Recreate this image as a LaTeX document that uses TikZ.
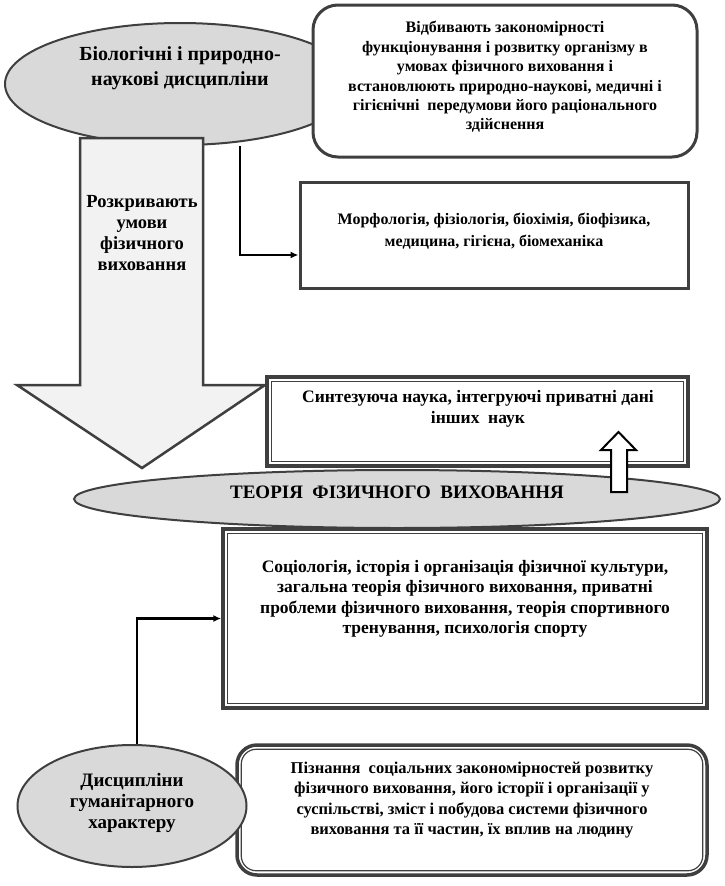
\documentclass[tikz,border=0pt]{standalone}
\usepackage{fontspec}
\setmainfont{Liberation Serif}
\usetikzlibrary{shapes.geometric,arrows.meta}
\definecolor{ellfill}{HTML}{D9D9D9}
\definecolor{edge}{HTML}{3F3F3F}
\definecolor{shaftfill}{HTML}{F2F2F2}
\begin{document}
\begin{tikzpicture}[x=1pt,y=-1pt,
  ell/.style={ellipse,draw=edge,line width=2pt,fill=ellfill,inner sep=0pt},
  plainbox/.style={rectangle,draw=edge,line width=3pt,fill=white,inner sep=0pt},
  outerframe/.style={rectangle,draw=edge,line width=3.5pt,fill=white,inner sep=0pt},
  innerframe/.style={draw=edge,line width=1.2pt},
  txt/.style={align=center,font=\bfseries\fontsize{16}{19.4}\selectfont,inner sep=0pt},
  bigtxt/.style={align=center,font=\bfseries\fontsize{18.5}{21}\selectfont,inner sep=0pt},
  blockarrow/.style={draw=edge,line width=2.5pt,fill=shaftfill,line join=miter},
  hollowarrow/.style={draw=black,line width=2pt,fill=white,line join=miter},
  conn/.style={draw=black,line width=2.2pt,-{Latex[length=8pt,width=7pt]}},
]
\useasboundingbox (0,0) rectangle (725,886);

% top ellipse
\node[ell,minimum width=350pt,minimum height=122pt] (bio) at (180,84) {};
\node[bigtxt,font=\bfseries\fontsize{20}{25}\selectfont] (biot) at (180,68) {Біологічні і природно-\\наукові дисципліни};

% top right rounded box
\node[plainbox,rounded corners=25pt,minimum width=384pt,minimum height=152pt] (vidb) at (505,81) {};
\node[txt] (vidbt) at (505,77) {Відбивають закономірності\\функціонування і розвитку організму в\\умовах фізичного виховання і\\встановлюють природно-наукові, медичні і\\гігієнічні\ \ передумови його раціонального\\здійснення};

% big down arrow
\path[blockarrow] (80,138) -- (203,138) -- (203,385) -- (265,385) -- (142,468) -- (17,385) -- (80,385) -- cycle;
\node[bigtxt] (razk) at (142,233) {Розкривають\\умови\\фізичного\\виховання};

% morphology box
\node[plainbox,minimum width=388pt,minimum height=106pt] (morph) at (494,235) {};
\node[txt,font=\bfseries\fontsize{16}{21.5}\selectfont] (morpht) at (494,231) {Морфологія, фізіологія, біохімія, біофізика,\\медицина, гігієна, біомеханіка};
\coordinate (c1) at (240,146);
\draw[conn] (c1) |- ([yshift=-20pt]morph.west);

% synthesis box
\node[outerframe,minimum width=421pt,minimum height=89pt] (synth) at (477.5,421.5) {};
\draw[innerframe] ([shift={(6pt,-6pt)}]synth.north west) rectangle ([shift={(-6pt,6pt)}]synth.south east);
\node[txt,font=\bfseries\fontsize{17.5}{21.5}\selectfont] (syntht) at (478,409) {Синтезуюча наука, інтегруючі приватні дані\\інших\ \ наук};

% theory ellipse
\node[ell,minimum width=646pt,minimum height=58pt] (teor) at (397,499) {};
\node[txt,font=\bfseries\fontsize{19}{22}\selectfont] (teort) at (397,492) {ТЕОРІЯ\ \ ФІЗИЧНОГО\ \ ВИХОВАННЯ};

% hollow up arrow
\path[hollowarrow] (611,492) -- (611,450) -- (601,450) -- (618.5,432) -- (636,450) -- (627,450) -- (627,492) -- cycle;

% sociology box
\node[outerframe,minimum width=484pt,minimum height=179pt] (soc) at (465,618.5) {};
\draw[innerframe] ([shift={(6pt,-6pt)}]soc.north west) rectangle ([shift={(-6pt,6pt)}]soc.south east);
\node[txt,font=\bfseries\fontsize{17.5}{20.5}\selectfont] (soct) at (465,599) {Соціологія, історія і організація фізичної культури,\\загальна теорія фізичного виховання, приватні\\проблеми фізичного виховання, теорія спортивного\\тренування, психологія спорту};

% knowledge box
\node[outerframe,rounded corners=20pt,minimum width=470pt,minimum height=130pt] (pizn) at (472,810) {};
\draw[innerframe,rounded corners=15pt] ([shift={(6pt,-6pt)}]pizn.north west) rectangle ([shift={(-6pt,6pt)}]pizn.south east);
\node[txt,font=\bfseries\fontsize{16.5}{20.5}\selectfont] (piznt) at (472,800) {Пізнання\ \ соціальних закономірностей розвитку\\фізичного виховання, його історії і організації у\\суспільстві, зміст і побудова системи фізичного\\виховання та її частин, їх вплив на людину};

% humanities ellipse
\node[ell,minimum width=229pt,minimum height=122pt] (hum) at (132,806) {};
\node[bigtxt,font=\bfseries\fontsize{19}{21}\selectfont] (humt) at (132,803) {Дисципліни\\гуманітарного\\характеру};
\draw[conn] ([xshift=5pt]hum.north) |- (soc.west);
\end{tikzpicture}
\end{document}
